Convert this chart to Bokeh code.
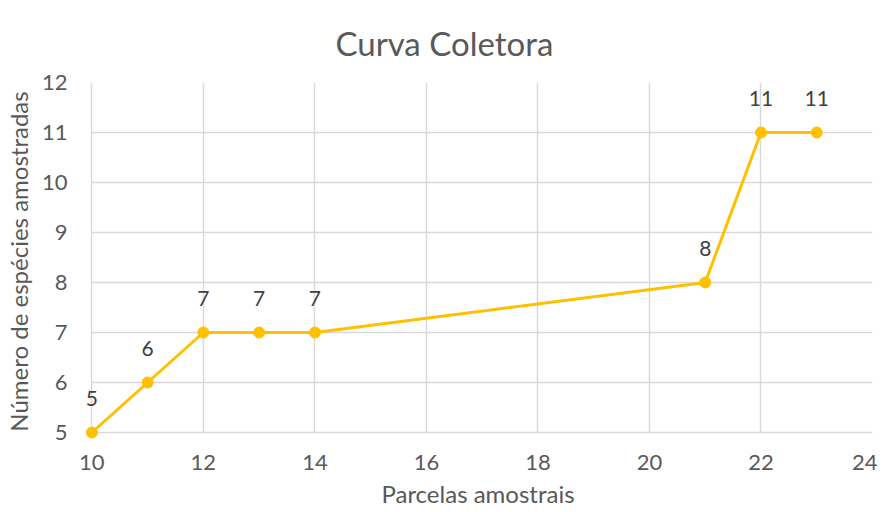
from bokeh.plotting import figure
from bokeh.models import Range1d, SingleIntervalTicker, ColumnDataSource, LabelSet
from bokeh.core.properties import value
from bokeh.embed import file_html
from bokeh.resources import INLINE

parcelas = [10, 11, 12, 13, 14, 21, 22, 23]
especies = [5, 6, 7, 7, 7, 8, 11, 11]
labels = [str(v) for v in especies]

FONT = "Lato"
GOLD = "#FFC000"
TXT = "#595959"

p = figure(width=877, height=510, output_backend="svg", toolbar_location=None,
           x_range=Range1d(9.85, 24), y_range=Range1d(4.84, 12),
           min_border_left=83, min_border_right=5, min_border_top=82, min_border_bottom=69)
p.outline_line_color = None
p.title.text = "Curva Coletora"
p.title.align = "left"
p.title.offset = 252
p.title.text_font = FONT
p.title.text_font_size = "33px"
p.title.text_font_style = "normal"
p.title.text_color = TXT
p.title.standoff = 40

p.xaxis.ticker = SingleIntervalTicker(interval=2)
p.yaxis.ticker = SingleIntervalTicker(interval=1)
for ax in (p.xaxis[0], p.yaxis[0]):
    ax.axis_line_color = None
    ax.major_tick_line_color = None
    ax.minor_tick_line_color = None
    ax.major_label_text_font = FONT
    ax.major_label_text_font_size = "22px"
    ax.major_label_text_color = TXT
    ax.axis_label_text_font = FONT
    ax.axis_label_text_font_size = "24px"
    ax.axis_label_text_font_style = "normal"
    ax.axis_label_text_color = TXT
p.xaxis.axis_label = "Parcelas amostrais"
p.yaxis.axis_label = "Número de espécies amostradas"
p.xaxis.major_label_standoff = 8
p.yaxis.major_label_standoff = 10
p.xaxis.axis_label_standoff = 6
p.yaxis.axis_label_standoff = 6

p.grid.grid_line_color = "#D9D9D9"
p.grid.grid_line_width = 1.5
p.xgrid.bounds = (10, 24)
p.xgrid.cross_bounds = (5, 12)
p.ygrid.bounds = (5, 12)
p.ygrid.cross_bounds = (10, 24)

src = ColumnDataSource(dict(x=parcelas, y=especies, t=labels))
p.line("x", "y", source=src, line_color=GOLD, line_width=3)
p.scatter("x", "y", source=src, size=11, fill_color=GOLD, line_color=GOLD)
p.add_layout(LabelSet(x="x", y="y", text="t", source=src, text_align="center",
                      text_baseline="middle", y_offset=34, text_font=value(FONT),
                      text_font_size=value("21px"), text_color="#404040"))

open("out.html", "w").write(file_html(p, INLINE))
